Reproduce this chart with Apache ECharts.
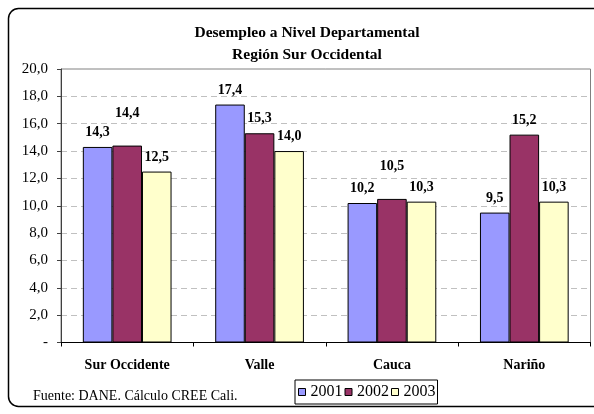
<!DOCTYPE html>
<html>
<head>
<meta charset="utf-8">
<script src="https://cdn.jsdelivr.net/npm/echarts@6/dist/echarts.min.js"></script>
<style>
  html, body { margin: 0; padding: 0; background: #fff; }
  #chart { width: 594px; height: 414px; }
</style>
</head>
<body>
<div id="chart"></div>
<script>
// datos (tasa de desempleo, %)
const categories = ['Sur Occidente', 'Valle', 'Cauca', 'Nariño'];
const years = ['2001', '2002', '2003'];
const v2001 = [14.3, 17.4, 10.2, 9.5];
const v2002 = [14.4, 15.3, 10.5, 15.2];
const v2003 = [12.5, 14.0, 10.3, 10.3];

const FONT = 'Liberation Serif';
const colors = ['#9999FF', '#993366', '#FFFFCC'];
const fmt = (v) => v.toFixed(1).replace('.', ',');

// etiquetas que Excel sube para que no se encimen
const raised = { '2002': [0, 2] };

const makeSeries = (name, values, i) => ({
  name: name,
  type: 'bar',
  barGap: 0,
  barCategoryGap: '33%',
  itemStyle: { color: colors[i], borderColor: '#000', borderWidth: 1 },
  label: {
    show: true,
    position: 'top',
    distance: 7,
    fontFamily: FONT,
    fontWeight: 'bold',
    fontSize: 14,
    lineHeight: 15,
    color: '#000',
    formatter: (p) => fmt(p.value)
  },
  data: values.map((v, j) => {
    if (raised[name] && raised[name].includes(j)) {
      return { value: v, label: { offset: [0, -18] } };
    }
    return v;
  })
});

const chart = echarts.init(document.getElementById('chart'), null, { renderer: 'canvas' });

chart.setOption({
  animation: false,
  backgroundColor: '#fff',
  title: {
    text: 'Desempleo a Nivel Departamental\nRegión Sur Occidental',
    left: 302,
    top: 17,
    textAlign: 'center',
    textStyle: {
      fontFamily: FONT,
      fontWeight: 'bold',
      fontSize: 15.5,
      lineHeight: 22,
      color: '#000'
    }
  },
  legend: {
    data: years,
    left: 295,
    top: 380,
    orient: 'horizontal',
    icon: 'rect',
    itemWidth: 7,
    itemHeight: 7,
    itemGap: 2,
    padding: [3, 2, 3, 3],
    borderColor: '#000',
    borderWidth: 1,
    itemStyle: { borderColor: '#000', borderWidth: 1 },
    textStyle: { fontFamily: FONT, fontSize: 16, color: '#000', lineHeight: 18 }
  },
  grid: {
    left: 61,
    right: 3.5,
    top: 69,
    bottom: 71.5,
    show: true,
    borderColor: '#808080',
    borderWidth: 1
  },
  xAxis: {
    type: 'category',
    data: categories,
    axisLine: { lineStyle: { color: '#000', width: 1 } },
    axisTick: { show: true, length: 4, lineStyle: { color: '#000' } },
    axisLabel: {
      margin: 16,
      fontFamily: FONT,
      fontWeight: 'bold',
      fontSize: 14,
      color: '#000'
    }
  },
  yAxis: {
    type: 'value',
    min: 0,
    max: 20,
    interval: 2,
    axisLine: { show: true, lineStyle: { color: '#404040', width: 1 } },
    axisTick: { show: true, length: 4, lineStyle: { color: '#404040' } },
    axisLabel: {
      margin: 13,
      fontFamily: FONT,
      fontSize: 15,
      color: '#000',
      formatter: (v) => (v === 0 ? '-' : fmt(v))
    },
    splitLine: { show: true, lineStyle: { color: '#c0c0c0', type: [6, 4], width: 1 } }
  },
  graphic: [
    {
      type: 'rect',
      shape: { x: 8.5, y: 8.5, width: 600, height: 398, r: 10 },
      style: { fill: 'none', stroke: '#000', lineWidth: 1.5 },
      silent: true,
      z: -1
    },
    {
      type: 'text',
      left: 33,
      top: 389,
      style: {
        text: 'Fuente: DANE. Cálculo CREE Cali.',
        font: '14px "Liberation Serif"',
        fill: '#000'
      }
    }
  ],
  series: [
    makeSeries(years[0], v2001, 0),
    makeSeries(years[1], v2002, 1),
    makeSeries(years[2], v2003, 2)
  ]
});
</script>
</body>
</html>
